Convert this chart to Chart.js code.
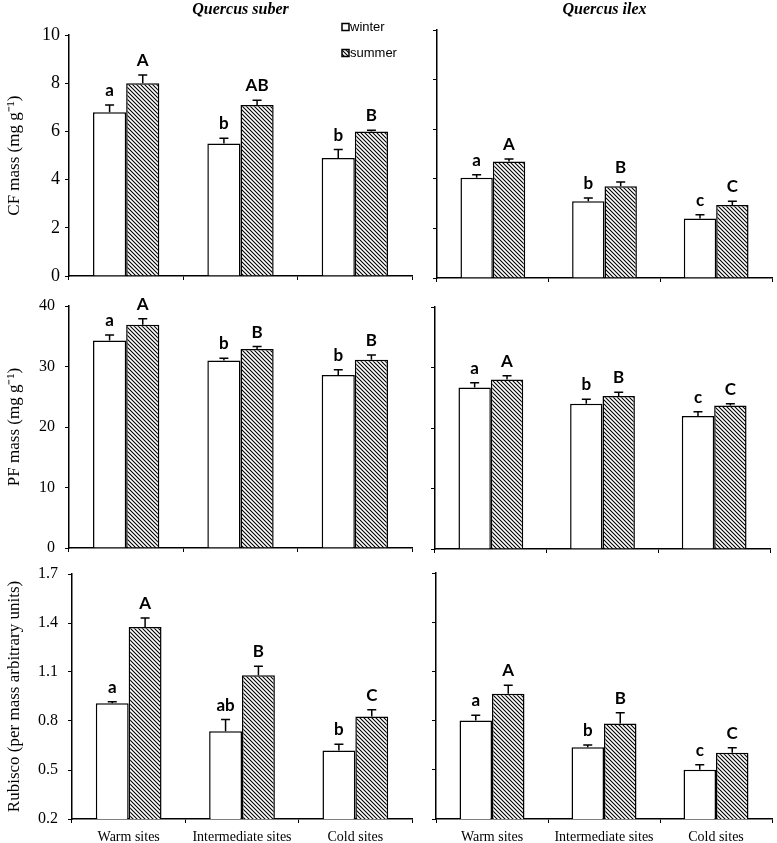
<!DOCTYPE html>
<html>
<head>
<meta charset="utf-8">
<script src="https://cdn.jsdelivr.net/npm/chart.js@4.4.0/dist/chart.umd.min.js"></script>
<style>
  body { margin: 0; background: #fff; }
  #wrap { position: relative; width: 777px; height: 843px; }
  canvas { position: absolute; }
</style>
</head>
<body>
<div id="wrap">
  <canvas id="c1" width="420" height="292" style="left:0;top:0"></canvas>
  <canvas id="c2" width="357" height="292" style="left:420px;top:0"></canvas>
  <canvas id="c3" width="420" height="270" style="left:0;top:292px"></canvas>
  <canvas id="c4" width="357" height="270" style="left:420px;top:292px"></canvas>
  <canvas id="c5" width="420" height="281" style="left:0;top:562px"></canvas>
  <canvas id="c6" width="357" height="281" style="left:420px;top:562px"></canvas>
</div>
<script>
// categories
const sites = ['Warm sites', 'Intermediate sites', 'Cold sites'];

// y tick labels
const cfTicks = [0, 2, 4, 6, 8, 10];
const pfTicks = [0, 10, 20, 30, 40];
const rubTicks = [0.2, 0.5, 0.8, 1.1, 1.4, 1.7];

// Quercus suber - CF mass
const suberCFWinter = [6.8, 5.5, 4.9];
const suberCFWinterErr = [0.3, 0.22, 0.35];
const suberCFSummer = [8.0, 7.1, 6.0];
const suberCFSummerErr = [0.35, 0.2, 0.05];
// Quercus ilex - CF mass
const ilexCFWinter = [4.05, 3.1, 2.4];
const ilexCFWinterErr = [0.12, 0.13, 0.15];
const ilexCFSummer = [4.7, 3.7, 2.95];
const ilexCFSummerErr = [0.1, 0.17, 0.15];

// PF mass
const suberPFWinter = [34.3, 31.0, 28.6];
const suberPFWinterErr = [0.9, 0.35, 0.85];
const suberPFSummer = [36.9, 32.9, 31.1];
const suberPFSummerErr = [1.0, 0.4, 0.8];
const ilexPFWinter = [26.7, 24.0, 22.0];
const ilexPFWinterErr = [0.8, 0.75, 0.7];
const ilexPFSummer = [28.0, 25.3, 23.7];
const ilexPFSummerErr = [0.65, 0.6, 0.3];

// Rubisco
const suberRubWinter = [0.908, 0.737, 0.62];
const suberRubWinterErr = [0.01, 0.072, 0.037];
const suberRubSummer = [1.376, 1.08, 0.827];
const suberRubSummerErr = [0.054, 0.055, 0.042];
const ilexRubWinter = [0.80, 0.637, 0.50];
const ilexRubWinterErr = [0.032, 0.014, 0.031];
const ilexRubSummer = [0.964, 0.783, 0.604];
const ilexRubSummerErr = [0.051, 0.065, 0.031];

// significance letters
const suberCFWinterLet = ['a', 'b', 'b'];
const suberCFSummerLet = ['A', 'AB', 'B'];
const ilexCFWinterLet = ['a', 'b', 'c'];
const ilexCFSummerLet = ['A', 'B', 'C'];
const suberPFWinterLet = ['a', 'b', 'b'];
const suberPFSummerLet = ['A', 'B', 'B'];
const ilexPFWinterLet = ['a', 'b', 'c'];
const ilexPFSummerLet = ['A', 'B', 'C'];
const suberRubWinterLet = ['a', 'ab', 'b'];
const suberRubSummerLet = ['A', 'B', 'C'];
const ilexRubWinterLet = ['a', 'b', 'c'];
const ilexRubSummerLet = ['A', 'B', 'C'];

function hatch() {
  const c = document.createElement('canvas');
  c.width = 4; c.height = 4;
  const g = c.getContext('2d');
  g.fillStyle = '#fff';
  g.fillRect(0, 0, 4, 4);
  g.strokeStyle = '#000';
  g.lineWidth = 1.1;
  g.beginPath();
  g.moveTo(-1, -1); g.lineTo(5, 5);
  g.moveTo(-1, 3); g.lineTo(1, 5);
  g.moveTo(3, -1); g.lineTo(5, 1);
  g.stroke();
  return g.createPattern(c, 'repeat');
}
const summerFill = hatch();

// error bars + letters
const errorBars = {
  id: 'errorBars',
  afterDatasetsDraw(chart) {
    const ctx = chart.ctx, y = chart.scales.y;
    chart.data.datasets.forEach((ds, i) => {
      chart.getDatasetMeta(i).data.forEach((bar, j) => {
        const top = y.getPixelForValue(ds.data[j] + ds.errors[j]);
        ctx.save();
        ctx.strokeStyle = '#000';
        ctx.lineWidth = 1.5;
        ctx.beginPath();
        ctx.moveTo(bar.x, bar.y);
        ctx.lineTo(bar.x, top);
        ctx.moveTo(bar.x - 4.5, top);
        ctx.lineTo(bar.x + 4.5, top);
        ctx.stroke();
        ctx.fillStyle = '#000';
        ctx.font = 'bold 17px Lato';
        ctx.textAlign = 'center';
        ctx.textBaseline = 'alphabetic';
        ctx.fillText(ds.letters[j], bar.x, top - 9);
        ctx.restore();
      });
    });
  }
};

const seasonLegend = {
  id: 'seasonLegend',
  afterDraw(chart, args, o) {
    if (!o.show) return;
    const ctx = chart.ctx;
    chart.data.datasets.forEach((ds, i) => {
      const y = o.y + i * o.gap;
      ctx.save();
      ctx.fillStyle = ds.backgroundColor;
      ctx.fillRect(o.x, y - 3.5, 7, 7);
      ctx.strokeStyle = '#000';
      ctx.lineWidth = 1.5;
      ctx.strokeRect(o.x, y - 3.5, 7, 7);
      ctx.fillStyle = '#000';
      ctx.font = '13px "Liberation Sans"';
      ctx.textAlign = 'left';
      ctx.textBaseline = 'middle';
      ctx.fillText(ds.label, o.x + 8, y);
      ctx.restore();
    });
  }
};

function panel(id, p) {
  new Chart(document.getElementById(id), {
    type: 'bar',
    data: {
      labels: sites,
      datasets: [
        { label: 'winter', data: p.winter, errors: p.winterErr, letters: p.winterLet,
          backgroundColor: '#fff', borderColor: '#000', borderWidth: 1.5 },
        { label: 'summer', data: p.summer, errors: p.summerErr, letters: p.summerLet,
          backgroundColor: summerFill, borderColor: '#000', borderWidth: 1.5 }
      ]
    },
    options: {
      responsive: false,
      animation: false,
      categoryPercentage: 0.58,
      barPercentage: 1.0,
      layout: { padding: { top: p.padTop, right: p.padRight, left: 0, bottom: 0 } },
      plugins: {
        legend: { display: false },
        tooltip: { enabled: false },
        title: {
          display: !!p.title,
          text: p.title,
          fullSize: false,
          color: '#000',
          font: { family: '"Liberation Serif"', size: 16, weight: 'bold', style: 'italic' },
          padding: { top: 0, bottom: p.titleGap || 0 }
        },
        seasonLegend: { show: !!p.legend, x: 342, y: 27, gap: 26 }
      },
      scales: {
        x: {
          grid: { display: true, drawOnChartArea: false, drawTicks: true, tickLength: 4, color: '#000', lineWidth: 1 },
          border: { display: true, color: '#000', width: 1.5 },
          ticks: {
            display: !!p.xLabels,
            color: '#000',
            padding: 6,
            font: { family: '"Liberation Serif"', size: 14 }
          },
          afterFit: s => { s.height = p.xHeight; }
        },
        y: {
          min: p.ticks[0],
          max: p.ticks[p.ticks.length - 1],
          afterBuildTicks: s => { s.ticks = p.ticks.map(v => ({ value: v })); },
          grid: { display: true, drawOnChartArea: false, drawTicks: true, tickLength: 4, color: '#000', lineWidth: 1 },
          border: { display: true, color: '#000', width: 1.5 },
          ticks: {
            display: !!p.yTitle,
            color: '#000',
            padding: p.tickPad,
            font: { family: '"Liberation Serif"', size: p.tickSize },
            callback: v => v.toFixed(p.decimals)
          },
          title: {
            display: !!p.yTitle,
            text: p.yTitle,
            color: '#000',
            font: { family: '"Liberation Serif"', size: 17 },
            padding: { top: 4, bottom: 0 }
          },
          afterFit: s => {
            s.width = p.yWidth;
            s.paddingTop = 0;
            s.paddingBottom = 0;
          }
        }
      }
    },
    plugins: [errorBars, seasonLegend]
  });
}

panel('c1', {
  winter: suberCFWinter, winterErr: suberCFWinterErr, winterLet: suberCFWinterLet,
  summer: suberCFSummer, summerErr: suberCFSummerErr, summerLet: suberCFSummerLet,
  ticks: cfTicks, decimals: 0, tickSize: 18, tickPad: 5, yTitle: 'CF mass (mg g\u207B\u00B9)',
  title: 'Quercus suber', titleGap: 16, legend: true,
  padTop: 0, padRight: 8, yWidth: 69, xHeight: 16
});
panel('c2', {
  winter: ilexCFWinter, winterErr: ilexCFWinterErr, winterLet: ilexCFWinterLet,
  summer: ilexCFSummer, summerErr: ilexCFSummerErr, summerLet: ilexCFSummerLet,
  ticks: cfTicks, decimals: 0, title: 'Quercus ilex', titleGap: 11,
  padTop: 0, padRight: 5, yWidth: 17, xHeight: 14
});
panel('c3', {
  winter: suberPFWinter, winterErr: suberPFWinterErr, winterLet: suberPFWinterLet,
  summer: suberPFSummer, summerErr: suberPFSummerErr, summerLet: suberPFSummerLet,
  ticks: pfTicks, decimals: 0, tickSize: 16, tickPad: 10, yTitle: 'PF mass (mg g\u207B\u00B9)',
  padTop: 14, padRight: 8, yWidth: 69, xHeight: 14
});
panel('c4', {
  winter: ilexPFWinter, winterErr: ilexPFWinterErr, winterLet: ilexPFWinterLet,
  summer: ilexPFSummer, summerErr: ilexPFSummerErr, summerLet: ilexPFSummerLet,
  ticks: pfTicks, decimals: 0,
  padTop: 15, padRight: 7, yWidth: 15, xHeight: 13
});
panel('c5', {
  winter: suberRubWinter, winterErr: suberRubWinterErr, winterLet: suberRubWinterLet,
  summer: suberRubSummer, summerErr: suberRubSummerErr, summerLet: suberRubSummerLet,
  ticks: rubTicks, decimals: 1, tickSize: 16, tickPad: 10, yTitle: 'Rubisco (per mass arbitrary units)',
  xLabels: true, padTop: 12, padRight: 8, yWidth: 72, xHeight: 24
});
panel('c6', {
  winter: ilexRubWinter, winterErr: ilexRubWinterErr, winterLet: ilexRubWinterLet,
  summer: ilexRubSummer, summerErr: ilexRubSummerErr, summerLet: ilexRubSummerLet,
  ticks: rubTicks, decimals: 1,
  xLabels: true, padTop: 11, padRight: 5, yWidth: 16, xHeight: 24
});
</script>
</body>
</html>
